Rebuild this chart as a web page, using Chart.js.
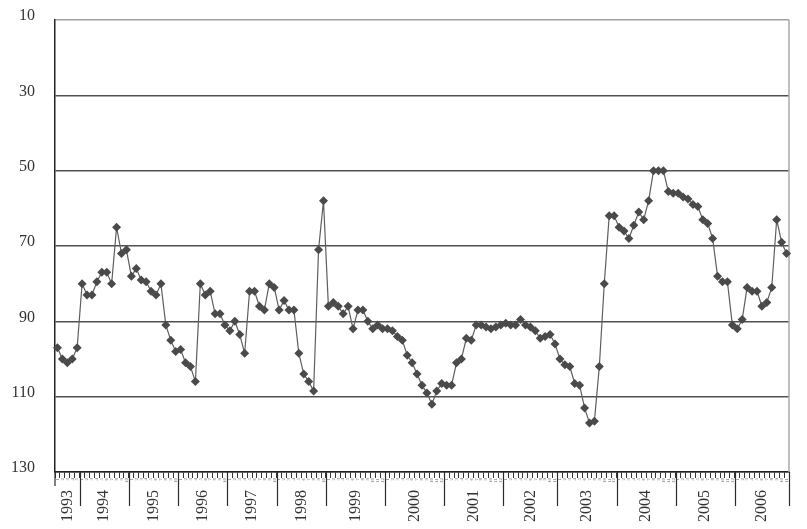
<!DOCTYPE html>
<html>
<head>
<meta charset="utf-8">
<script src="https://cdn.jsdelivr.net/npm/chart.js@4.4.1/dist/chart.umd.min.js"></script>
<style>
  html, body { margin: 0; padding: 0; background: #ffffff; }
  canvas { display: block; }
</style>
</head>
<body>
<canvas id="chart" width="807" height="529"></canvas>
<script>
// Years on the outer axis level and how many observations fall in each
const years = [1993, 1994, 1995, 1996, 1997, 1998, 1999, 2000, 2001, 2002, 2003, 2004, 2005, 2006];
const periodsPerYear = [5, 10, 10, 10, 10, 10, 12, 12, 12, 11, 12, 12, 12, 11];

// Value axis ticks (axis runs downward: 10 at the top, 130 at the bottom)
const yTicks = [10, 30, 50, 70, 90, 110, 130];

// Observations, in order
const values = [
  97, 100, 101, 100, 97,
  80, 83, 83, 79.5, 77, 77, 80, 65, 72, 71,
  78, 76, 79, 79.5, 82, 83, 80, 91, 95, 98,
  97.5, 101, 102, 106, 80, 83, 82, 88, 88, 91,
  92.5, 90, 93.5, 98.5, 82, 82, 86, 87, 80, 81,
  87, 84.5, 87, 87, 98.5, 104, 106, 108.5, 71, 58,
  86, 85, 86, 88, 86, 92, 87, 87, 90, 92, 91, 92,
  92, 92.5, 94, 95, 99, 101, 104, 107, 109, 112, 108.5, 106.5,
  107, 107, 101, 100, 94.5, 95, 91, 91, 91.5, 92, 91.5, 91,
  90.5, 91, 91, 89.5, 91, 91.5, 92.5, 94.5, 94, 93.5, 96,
  100, 101.5, 102, 106.5, 107, 113, 117, 116.5, 102, 80, 62, 62,
  65, 66, 68, 64.5, 61, 63, 58, 50, 50, 50, 55.5, 56,
  56, 57, 57.5, 59, 59.5, 63, 64, 68, 78, 79.5, 79.5, 91,
  92, 89.5, 81, 82, 82, 86, 85, 81, 63, 69, 72
];

// Category labels: "year-period"
const labels = [];
years.forEach((y, k) => {
  for (let j = 1; j <= periodsPerYear[k]; j++) labels.push(y + '-' + j);
});

const serif = "'Liberation Serif', 'DejaVu Serif', serif";

// Light frame line on the right edge of the plot area
const frameRight = {
  id: 'frameRight',
  beforeDatasetsDraw(chart) {
    const { ctx, chartArea: a } = chart;
    ctx.save();
    ctx.strokeStyle = '#a8a8a8';
    ctx.lineWidth = 1.5;
    ctx.beginPath();
    ctx.moveTo(a.right, a.top);
    ctx.lineTo(a.right, a.bottom);
    ctx.stroke();
    ctx.restore();
  }
};

// Outer level of the category axis: year separators and year names
const yearAxis = {
  id: 'yearAxis',
  afterDraw(chart) {
    const xs = chart.scales.x;
    const { ctx, chartArea: a } = chart;
    const half = (xs.getPixelForValue(1) - xs.getPixelForValue(0)) / 2;
    const bottom = a.bottom;
    ctx.save();
    ctx.strokeStyle = '#2a2a2a';
    ctx.lineWidth = 1.2;
    ctx.beginPath();
    ctx.moveTo(a.left, bottom);
    ctx.lineTo(a.left, bottom + 14);
    ctx.stroke();
    let start = 0;
    years.forEach((y, k) => {
      const n = periodsPerYear[k];
      const left = xs.getPixelForValue(start) - half;
      const right = xs.getPixelForValue(start + n - 1) + half;
      const sx = Math.round(right) + 0.5;
      ctx.beginPath();
      ctx.moveTo(sx, bottom);
      ctx.lineTo(sx, bottom + 34);
      ctx.stroke();
      ctx.save();
      ctx.translate((left + right) / 2, bottom + 18);
      ctx.rotate(-Math.PI / 2);
      ctx.font = '16px ' + serif;
      ctx.fillStyle = '#333333';
      ctx.textAlign = 'right';
      ctx.textBaseline = 'middle';
      ctx.fillText(String(y), 0, 0);
      ctx.restore();
      start += n;
    });
    ctx.restore();
  }
};

new Chart(document.getElementById('chart'), {
  type: 'line',
  data: {
    labels: labels,
    datasets: [{
      data: values,
      borderColor: '#5e5e5e',
      borderWidth: 1.2,
      tension: 0,
      pointStyle: 'rectRot',
      pointRadius: 4.5,
      pointBackgroundColor: '#4a4a4a',
      pointBorderColor: '#4a4a4a',
      pointBorderWidth: 0
    }]
  },
  options: {
    responsive: false,
    animation: false,
    devicePixelRatio: 1,
    layout: { padding: { top: 20, right: 18, left: 0, bottom: 0 } },
    plugins: { legend: { display: false }, tooltip: { enabled: false } },
    scales: {
      x: {
        type: 'category',
        offset: true,
        grid: { offset: true, drawOnChartArea: false, drawTicks: true, tickLength: 6, color: '#333333', lineWidth: 1 },
        border: { color: '#222222', width: 1.5 },
        ticks: {
          autoSkip: false,
          minRotation: 90,
          maxRotation: 90,
          padding: 0,
          color: '#666666',
          font: { size: 5, family: serif },
          callback: (v, i) => labels[i].split('-')[1]
        },
        afterFit: (s) => { s.height = 57; }
      },
      y: {
        reverse: true,
        min: 10,
        max: 130,
        afterBuildTicks: (s) => { s.ticks = yTicks.map(v => ({ value: v })); },
        grid: {
          color: (c) => (c.tick && c.tick.value === 10 ? '#a0a0a0' : '#505050'),
          lineWidth: 1.5,
          drawTicks: true,
          tickLength: 20,
          tickColor: 'rgba(0,0,0,0)'
        },
        border: { color: '#222222', width: 1.5 },
        ticks: {
          padding: 0,
          labelOffset: -4,
          color: '#333333',
          font: { size: 16, family: serif }
        },
        afterFit: (s) => { s.width = 55; }
      }
    }
  },
  plugins: [frameRight, yearAxis]
});
</script>
</body>
</html>
